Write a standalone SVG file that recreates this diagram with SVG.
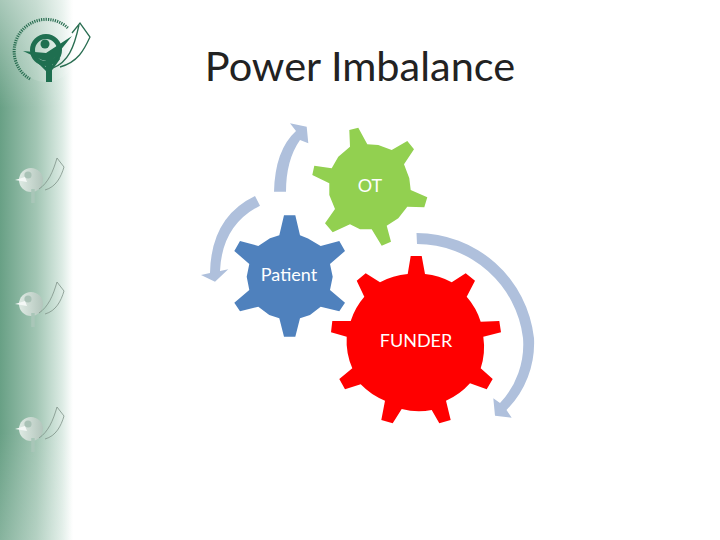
<svg xmlns="http://www.w3.org/2000/svg" width="720" height="540" viewBox="0 0 720 540">
<style>
.lbl{font-family:"Lato","Open Sans","Liberation Sans",sans-serif;fill:#fff;text-anchor:middle;font-size:18px}
.title{font-family:"Lato","Open Sans","Liberation Sans",sans-serif;fill:#222;font-size:41.5px;text-anchor:middle}
.arr{fill:#afc0dc}
</style>
<defs>
<linearGradient id="bg" x1="0" x2="1" y1="0" y2="0">
<stop offset="0" stop-color="#68a085"/><stop offset="0.5" stop-color="#a2c6b4"/><stop offset="0.85" stop-color="#dcebe4"/><stop offset="1" stop-color="#fff"/>
</linearGradient>
<linearGradient id="fade" x1="0" x2="0" y1="0" y2="1">
<stop offset="0" stop-color="#fff" stop-opacity=".42"/><stop offset="0.2" stop-color="#fff" stop-opacity="0"/><stop offset="0.8" stop-color="#fff" stop-opacity="0"/><stop offset="1" stop-color="#fff" stop-opacity=".2"/>
</linearGradient>
<linearGradient id="gb" x1="0" x2="1" y1="0" y2="0">
<stop offset="0" stop-color="#eef4f0"/><stop offset="1" stop-color="#b4c4bc"/>
</linearGradient>
<g id="ghost">
<circle cx="1" cy="0" r="12" fill="url(#gb)" fill-opacity=".85"/>
<circle cx="-2" cy="-5" r="3.6" fill="#a9c2b6"/>
<path d="M-15,0 L-5,-3 L-3,2 Z" fill="#f4f8f6"/>
<path d="M3,9 L3,23" stroke="#a9c6b8" stroke-width="3.5" fill="none"/>
<path d="M9,9 C18,3 23,-8 27,-22 M15,10 C26,7 31,-3 34,-13 L27,-22" stroke="#7f9288" stroke-width=".8" fill="none"/>
</g>
</defs>
<rect width="720" height="540" fill="#fff"/>
<rect width="73" height="540" fill="url(#bg)"/>
<rect width="73" height="540" fill="url(#fade)"/>
<g id="logo">
<circle cx="46" cy="52" r="30" fill="#fff" fill-opacity=".12"/>
<path d="M30,79 A32,32 0 0 1 15,44 A32,32 0 0 1 68,28" fill="none" stroke="#2a6e52" stroke-width="3" stroke-dasharray="1.2 1.1"/>
<circle cx="46" cy="50" r="13.5" fill="none" stroke="#1f6f50" stroke-width="5"/>
<circle cx="45" cy="44" r="4.5" fill="#1f6f50"/>
<path d="M23,51 L46,53 L72,36 L51,62 L42,60 Z" fill="#1f6f50"/>
<path d="M46,60 L46,82 L52,82 L52,60 Z" fill="#1f6f50"/>
<path d="M37,60 L49,72 L59,58" fill="none" stroke="#1f6f50" stroke-width="3"/>
<path d="M53,68 C68,62 74,48 79,25 M60,67 C78,62 84,50 90,37 L80,23 L72,33" fill="none" stroke="#2a6e52" stroke-width="1.3"/>
</g>
<use id="ghost1" href="#ghost" x="30" y="180"/>
<use id="ghost2" href="#ghost" x="30" y="304"/>
<use id="ghost3" href="#ghost" x="30" y="429"/>
<text class="title" x="360" y="81">Power Imbalance</text>
<g id="connectors">
<path class="arr" d="M416.5,233 A118,118 0 0 1 534,338 A95,95 0 0 1 506.5,410 L511.7,417.7 L495,415.7 L493.3,398.3 L500,403 A85,85 0 0 0 523,338 A107,107 0 0 0 417,244 Z"/>
<path class="arr" d="M274,191.7 Q275,150 296,131 L290,123.3 L306.7,126.7 L308.3,143.3 L300,140 Q286,160 286,191.7 Z"/>
<path class="arr" d="M255,196 Q211,217 210,273 L201,275 L215,281.7 L228.3,269.3 L220,271 Q222,225 260,205.7 Z"/>
</g>
<g id="node-ot">
<polygon fill="#92d050" points="349.3,130 358.3,127.7 367.3,144.3 378.3,145 391.7,150 407.3,141 414,149.3 404,164.3 409.3,178.3 410.7,190 427.3,197.3 424.3,207.3 407.3,206.7 398.3,218.3 386.7,225.7 391,241.7 381.7,245.7 371.7,229.3 360,229.3 350,224.3 332.7,232.3 325,223.3 335,209 329.3,195 329.3,183.3 312.3,175 314.3,165.7 331.7,168.3 338.3,156.7 350,146.7"/>
<text class="lbl" x="370" y="192">OT</text>
</g>
<g id="node-patient">
<polygon fill="#4f81bd" points="284,215.3 295.3,215.3 300,235.3 308,238.5 320.7,246 339.3,241 345,251 330,264 332.7,276.7 330,290 345,302.7 339.3,311.3 320.7,306.7 310,315 300,318.3 295.3,336.7 284,336.7 279.3,318.3 269.3,315 258.3,306.7 240,311.3 234.3,302.7 249.3,290 246.7,276.7 249.3,264 234.3,251 240,241 258.3,246 270,238.3 279.3,235.3"/>
<text class="lbl" x="289" y="281">Patient</text>
</g>
<g id="node-funder">
<path fill="#ff0000" d="M410.7,256 L421.7,256 L425,274 A69,69 0 0 1 451.7,282.3 L465.7,273.3 L475,280.7 L466.7,296.7 A69,69 0 0 1 480.7,321.7 L499.3,321 L501,332.3 L483.3,336.7 A69,69 0 0 1 480.7,368.3 L492.7,379 L486.7,389.3 L470,383.3 A69,69 0 0 1 446,400.7 L450.7,420 L439.3,423.3 L431.7,410 A69,69 0 0 1 401.7,409 L392.7,423.3 L381.3,420 L385,400.7 A69,69 0 0 1 360.7,384.3 L345,389.3 L339.3,379 L352.3,368.3 A69,69 0 0 1 346.7,336.7 L331,332.3 L332.3,321 L350.7,321 A69,69 0 0 1 364.3,296.7 L356.7,280.7 L365.7,273.3 L380,282.3 A69,69 0 0 1 407.7,274 Z"/>
<text class="lbl" x="416" y="347">FUNDER</text>
</g>
</svg>
